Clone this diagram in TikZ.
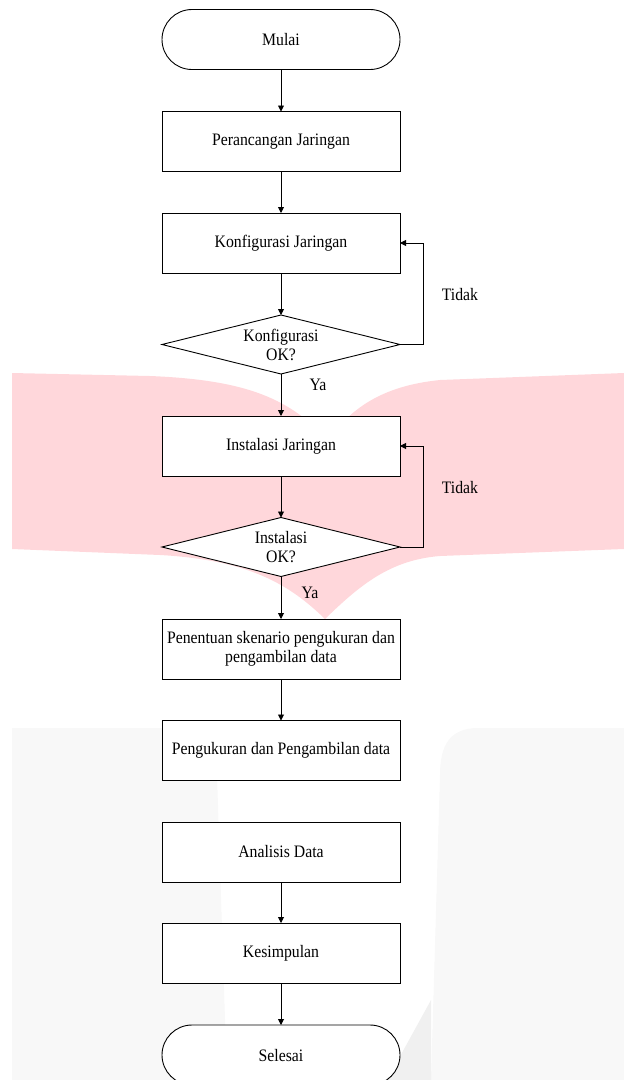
\documentclass[tikz,border=0pt]{standalone}
\usepackage{fontspec}
\setmainfont{Liberation Serif}[FakeStretch=0.9]
\usetikzlibrary{shapes.geometric,arrows.meta}
\definecolor{wmpink}{RGB}{255,215,219}
\definecolor{wmgray}{RGB}{248,248,248}
\definecolor{wmgray2}{RGB}{240,240,240}
\tikzset{
  base/.style={draw=black, line width=0.9pt, fill=white, inner sep=0pt, outer sep=0pt,
    font=\fontsize{17.5}{19}\selectfont, align=center},
  procbox/.style={base, rectangle, minimum width=238pt, minimum height=60pt},
  termbox/.style={base, rectangle, rounded corners=30pt, minimum width=238pt, minimum height=60pt},
  decbox/.style={base, diamond, aspect=4, minimum width=238pt, minimum height=59pt},
  lbl/.style={font=\fontsize{17.5}{19}\selectfont, inner sep=0pt},
  arr/.style={draw=black, line width=0.9pt, -{Triangle[length=6pt,width=6pt]}},
}
\begin{document}
\begin{tikzpicture}[x=1pt,y=-1pt]
\useasboundingbox (0,0) rectangle (624,1080);
% watermark
\fill[wmgray] (12,728) -- (188,728) .. controls (212,728) and (216,745) .. (217,775) -- (227,1080) -- (12,1080) -- cycle;
\fill[wmgray] (624,728) -- (478,728) .. controls (450,728) and (440,745) .. (440,775) -- (431,1080) -- (624,1080) -- cycle;
\fill[wmgray2] (387,1080) -- (431,1000) -- (431,1080) -- cycle;
\fill[wmpink] (12,373) -- (150,376) .. controls (250,380) and (290,400) .. (328,440)
  .. controls (350,410) and (380,386) .. (440,380) -- (624,373) -- (624,549)
  -- (440,556) .. controls (390,560) and (360,585) .. (325,619)
  .. controls (290,585) and (250,560) .. (160,555) -- (12,549) -- cycle;
% nodes
\node[termbox] (mulai) at (281,39.5) {Mulai};
\node[procbox] (peranc) at (281,141.5) {Perancangan Jaringan};
\node[procbox] (konf) at (281,243) {Konfigurasi Jaringan};
\node[decbox] (dkonf) at (281,344.5) {Konfigurasi\\OK?};
\node[procbox] (inst) at (281,446) {Instalasi Jaringan};
\node[decbox] (dinst) at (281,547) {Instalasi\\OK?};
\node[procbox] (penent) at (281,649) {Penentuan skenario pengukuran dan\\pengambilan data};
\node[procbox] (ukur) at (281,750.5) {Pengukuran dan Pengambilan data};
\node[procbox] (anal) at (281,852) {Analisis Data};
\node[procbox] (kesim) at (281,953) {Kesimpulan};
\node[termbox] (selesai) at (281,1055) {Selesai};
% labels
\node[lbl] (ya1) at (318,385) {Ya};
\node[lbl] (ya2) at (310,593) {Ya};
\node[lbl] (tidak1) at (460,295) {Tidak};
\node[lbl] (tidak2) at (460,488) {Tidak};
% connectors
\draw[arr] (mulai.south) -- (peranc.north);
\draw[arr] (peranc.south) -- (konf.north);
\draw[arr] (konf.south) -- (dkonf.north);
\draw[arr] (dkonf.south) -- (inst.north);
\draw[arr] (inst.south) -- (dinst.north);
\draw[arr] (dinst.south) -- (penent.north);
\draw[arr] (penent.south) -- (ukur.north);
\draw[arr] (anal.south) -- (kesim.north);
\draw[arr] (kesim.south) -- (selesai.north);
\draw[arr] (dkonf.east) -- ++(23,0) |- (konf.east);
\draw[arr] (dinst.east) -- ++(23,0) |- (inst.east);
\end{tikzpicture}
\end{document}
